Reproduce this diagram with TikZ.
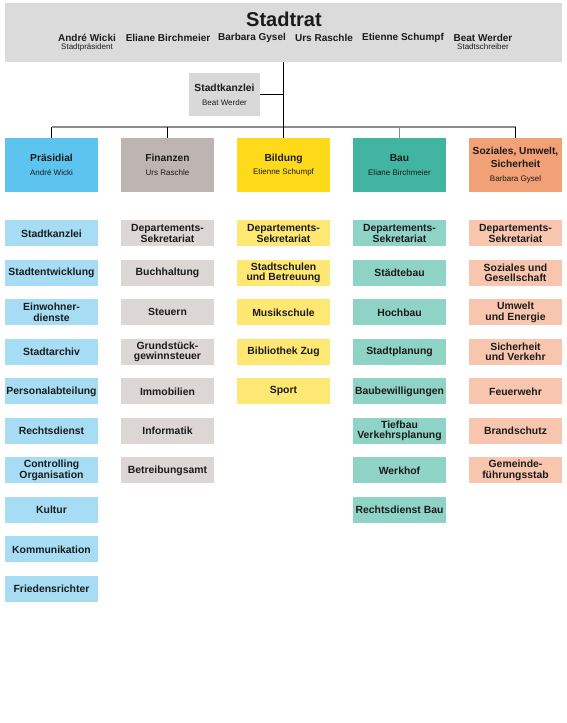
\documentclass[tikz,border=0pt]{standalone}
\usepackage{fontspec}
\setmainfont{Liberation Sans}
\definecolor{ink}{HTML}{1B1B1B}
\definecolor{linegray}{HTML}{8C8C8C}
\definecolor{ratgray}{HTML}{DBDBDC}
\definecolor{kanzgray}{HTML}{D9D9D9}
\definecolor{pracol}{HTML}{5DC4F0}
\definecolor{prasub}{HTML}{A6DDF5}
\definecolor{fincol}{HTML}{BEB4B1}
\definecolor{finsub}{HTML}{DCD6D5}
\definecolor{bilcol}{HTML}{FFDA1A}
\definecolor{bilsub}{HTML}{FFE774}
\definecolor{baucol}{HTML}{42B4A2}
\definecolor{bausub}{HTML}{8FD3C6}
\definecolor{sozcol}{HTML}{F2A076}
\definecolor{sozsub}{HTML}{F8C6AE}
\usetikzlibrary{positioning}
\newcommand{\rolefont}{\fontsize{8}{10}\selectfont\mdseries}

\begin{document}
\begin{tikzpicture}[x=1pt, y=-1pt, line join=round,
    every node/.style={text=ink, inner sep=1pt},
    member/.style={font=\fontsize{10}{12}\selectfont\bfseries},
    role/.style={font=\rolefont},
    dept/.style={minimum width=93pt, minimum height=54pt, align=center,
        font=\fontsize{10.2}{13.5}\selectfont\bfseries},
    unit/.style={minimum width=93pt, minimum height=26pt, align=center,
        font=\fontsize{10.4}{10.6}\selectfont\bfseries},
    node distance=13.1pt]
    \useasboundingbox (0,0) rectangle (567,723);

    % Stadtrat (top box)
    \node[fill=ratgray, minimum width=557pt, minimum height=59pt, inner sep=0] (rat) at (283.5,32.5) {};
    \node[font=\fontsize{20}{24}\selectfont\bfseries] (titel) at (284,19) {Stadtrat};
    \node[member] (wicki)  at (87,38)  {André Wicki};
    \node[member] (birch)  at (168,38) {Eliane Birchmeier};
    \node[member] (gysel)  at (252,38) {Barbara Gysel};
    \node[member] (rasch)  at (324,38) {Urs Raschle};
    \node[member] (schum)  at (403,38) {Etienne Schumpf};
    \node[member] (werder) at (483,38) {Beat Werder};
    \node[role, below=0pt of wicki]  (praes)  {Stadtpräsident};
    \node[role, below=0pt of werder] (schrei) {Stadtschreiber};

    % Stadtkanzlei (staff box)
    \node[fill=kanzgray, minimum width=71pt, minimum height=43pt, align=center,
        font=\fontsize{10.3}{14}\selectfont\bfseries] (kanz) at (224.5,94.5)
        {Stadtkanzlei\\{\rolefont Beat Werder}};

    % Departments
    \node[dept, fill=pracol] (pra) at (51.5,165)  {Präsidial\\{\rolefont André Wicki}};
    \node[dept, fill=fincol] (fin) at (167.5,165) {Finanzen\\{\rolefont Urs Raschle}};
    \node[dept, fill=bilcol] (bil) at (283.5,165) {Bildung\\{\rolefont Etienne Schumpf}};
    \node[dept, fill=baucol] (bau) at (399.5,165) {Bau\\{\rolefont Eliane Birchmeier}};
    \node[dept, fill=sozcol] (soz) at (515.5,165) {Soziales, Umwelt,\\Sicherheit\\{\rolefont Barbara Gysel}};

    % Lines
    \coordinate (bar) at (0,127);
    \draw[line width=1.6pt, linegray] (pra.north |- bar) -- (soz.north |- bar);
    \draw[line width=0.9pt] (rat.south -| bil.north) -- (bil.north);
    \draw[line width=0.9pt] (kanz.east) -- (kanz.east -| bil.north);
    \draw[line width=0.9pt] (pra.north |- bar) -- (pra.north);
    \draw[line width=0.9pt] (fin.north |- bar) -- (fin.north);
    \draw[line width=0.9pt, linegray] (bau.north |- bar) -- (bau.north);
    \draw[line width=0.9pt] (soz.north |- bar) -- (soz.north);

    % Präsidial units
    \node[unit, fill=prasub, below=28pt of pra] (pra1) {Stadtkanzlei};
    \node[unit, fill=prasub, below=of pra1] (pra2) {Stadtentwicklung};
    \node[unit, fill=prasub, below=of pra2] (pra3) {Einwohner-\\dienste};
    \node[unit, fill=prasub, below=of pra3] (pra4) {Stadtarchiv};
    \node[unit, fill=prasub, below=of pra4] (pra5) {Personalabteilung};
    \node[unit, fill=prasub, below=of pra5] (pra6) {Rechtsdienst};
    \node[unit, fill=prasub, below=of pra6] (pra7) {Controlling\\Organisation};
    \node[unit, fill=prasub, below=of pra7] (pra8) {Kultur};
    \node[unit, fill=prasub, below=of pra8] (pra9) {Kommunikation};
    \node[unit, fill=prasub, below=of pra9] (pra10) {Friedensrichter};

    % Finanzen units
    \node[unit, fill=finsub, below=28pt of fin] (fin1) {Departements-\\Sekretariat};
    \node[unit, fill=finsub, below=of fin1] (fin2) {Buchhaltung};
    \node[unit, fill=finsub, below=of fin2] (fin3) {Steuern};
    \node[unit, fill=finsub, below=of fin3] (fin4) {Grundstück-\\gewinnsteuer};
    \node[unit, fill=finsub, below=of fin4] (fin5) {Immobilien};
    \node[unit, fill=finsub, below=of fin5] (fin6) {Informatik};
    \node[unit, fill=finsub, below=of fin6] (fin7) {Betreibungsamt};

    % Bildung units
    \node[unit, fill=bilsub, below=28pt of bil] (bil1) {Departements-\\Sekretariat};
    \node[unit, fill=bilsub, below=of bil1] (bil2) {Stadtschulen\\und Betreuung};
    \node[unit, fill=bilsub, below=of bil2] (bil3) {Musikschule};
    \node[unit, fill=bilsub, below=of bil3] (bil4) {Bibliothek Zug};
    \node[unit, fill=bilsub, below=of bil4] (bil5) {Sport};

    % Bau units
    \node[unit, fill=bausub, below=28pt of bau] (bau1) {Departements-\\Sekretariat};
    \node[unit, fill=bausub, below=of bau1] (bau2) {Städtebau};
    \node[unit, fill=bausub, below=of bau2] (bau3) {Hochbau};
    \node[unit, fill=bausub, below=of bau3] (bau4) {Stadtplanung};
    \node[unit, fill=bausub, below=of bau4] (bau5) {Baubewilligungen};
    \node[unit, fill=bausub, below=of bau5] (bau6) {Tiefbau\\Verkehrsplanung};
    \node[unit, fill=bausub, below=of bau6] (bau7) {Werkhof};
    \node[unit, fill=bausub, below=of bau7] (bau8) {Rechtsdienst Bau};

    % Soziales, Umwelt, Sicherheit units
    \node[unit, fill=sozsub, below=28pt of soz] (soz1) {Departements-\\Sekretariat};
    \node[unit, fill=sozsub, below=of soz1] (soz2) {Soziales und\\Gesellschaft};
    \node[unit, fill=sozsub, below=of soz2] (soz3) {Umwelt\\und Energie};
    \node[unit, fill=sozsub, below=of soz3] (soz4) {Sicherheit\\und Verkehr};
    \node[unit, fill=sozsub, below=of soz4] (soz5) {Feuerwehr};
    \node[unit, fill=sozsub, below=of soz5] (soz6) {Brandschutz};
    \node[unit, fill=sozsub, below=of soz6] (soz7) {Gemeinde-\\führungsstab};
\end{tikzpicture}
\end{document}
